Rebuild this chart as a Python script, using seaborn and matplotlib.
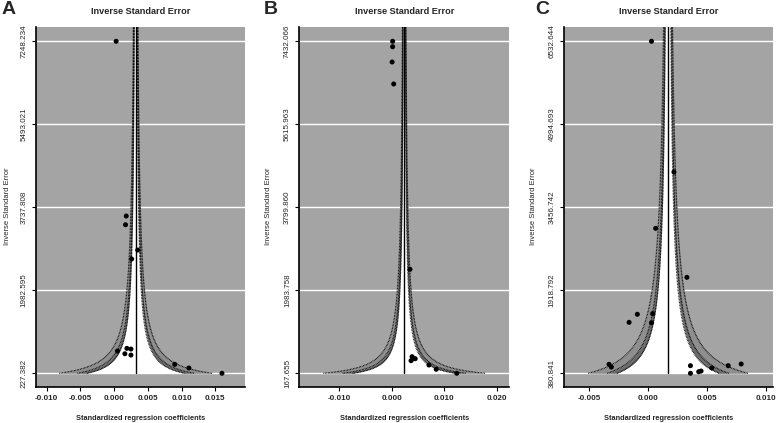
import numpy as np
import pandas as pd
import matplotlib
matplotlib.use("Agg")
import matplotlib.pyplot as plt
import seaborn as sns

sns.set_theme(style="white")
plt.rcParams['font.family'] = ['Liberation Sans', 'DejaVu Sans']

# ---------------- data ----------------
panel_letters = ["A", "B", "C"]
title_text = "Inverse Standard Error"
xlabel_text = "Standardized regression coefficients"

A_x = [0.0003, 0.0018, 0.0017, 0.0035, 0.0026, 0.0005, 0.0016, 0.0019, 0.0025, 0.0025, 0.0090, 0.0111, 0.0160]
A_y = [7248.234, 3553, 3369, 2834, 2644, 698, 641, 755, 740, 613, 417, 339, 227.382]
A_yticks = [227.382, 1982.595, 3737.808, 5493.021, 7248.234]
A_xticks = [-0.010, -0.005, 0.000, 0.005, 0.010, 0.015]
A_center = 0.0032

B_x = [0.0002, 0.0002, 0.0001, 0.0004, 0.0035, 0.0039, 0.0042, 0.0037, 0.0045, 0.0071, 0.0085, 0.0124]
B_y = [7432.066, 7314, 6979, 6498, 2443, 531, 487, 444, 487, 349, 255, 167.655]
B_yticks = [167.655, 1983.758, 3799.860, 5615.963, 7432.066]
B_xticks = [-0.010, 0.000, 0.010, 0.020]
B_center = 0.0024

C_x = [0.0003, 0.0022, 0.00065, 0.0033, -0.0009, -0.0016, 0.0004, 0.0003, -0.0033, -0.0031,
       0.0036, 0.0036, 0.0043, 0.0045, 0.0054, 0.0068, 0.0079]
C_y = [6532.644, 4111, 3067, 2159, 1474, 1325, 1486, 1317, 547, 497,
       522, 380.841, 410, 423, 479, 522, 553]
C_yticks = [380.841, 1918.792, 3456.742, 4994.693, 6532.644]
C_xticks = [-0.005, 0.000, 0.005, 0.010]
C_center = 0.0017

# significance contours (two-sided z at 10%, 5%, 1%)
z_levels = [1.645, 1.96, 2.576]

# ---------------- styling / layout ----------------
BG = "#a4a4a4"
DARK = "#6c6c6c"
MID = "#8e8e8e"

W, H = 778, 423
fig = plt.figure(figsize=(W / 100, H / 100), dpi=100)

axes_px = [(35.7, 245.0), (299.3, 509.3), (563.7, 772.7)]
top_px, bot_px = 26.7, 386.7
xlims = [(-0.01163, 0.01942), (-0.01756, 0.0224), (-0.00714, 0.01057)]
ylabel_x = [-0.12, -0.13, -0.128]
letter_x = [2, 264, 535]

panels = [
    (A_x, A_y, A_yticks, A_xticks, A_center),
    (B_x, B_y, B_yticks, B_xticks, B_center),
    (C_x, C_y, C_yticks, C_xticks, C_center),
]

for i, (xs, ys, yt, xt, c) in enumerate(panels):
    l, r = axes_px[i]
    ax = fig.add_axes([l / W, (H - bot_px) / H, (r - l) / W, (bot_px - top_px) / H])
    ax.set_facecolor(BG)

    ymin, ymax = yt[0], yt[-1]
    rng = ymax - ymin
    ytop = ymax + rng * 14.6 / 332
    ybot = ymin - rng * 13.4 / 332
    ax.set_ylim(ybot, ytop)
    ax.set_xlim(*xlims[i])

    # grid
    for v in yt:
        ax.axhline(v, color="white", lw=1.0, zorder=0.5)

    # contour-enhanced funnel
    yy = np.geomspace(ymin, ytop * 1.02, 600)
    se = 1.0 / yy
    z1, z2, z3 = z_levels
    for s in (-1, 1):
        ax.fill_betweenx(yy, c + s * z2 * se, c + s * z3 * se, color=MID, lw=0, zorder=1)
        ax.fill_betweenx(yy, c + s * z1 * se, c + s * z2 * se, color=DARK, lw=0, zorder=1)
    ax.fill_betweenx(yy, c - z1 * se, c + z1 * se, color="white", lw=0, zorder=1)
    for z in z_levels:
        for s in (-1, 1):
            ax.plot(c + s * z * se, yy, color="black", lw=0.9, ls=(0, (0.6, 0.6)), zorder=2)
    ax.plot([c, c], [ymin, ytop * 1.02], color="black", lw=1.0, zorder=3)

    df = pd.DataFrame({"x": xs, "y": ys})
    sns.scatterplot(data=df, x="x", y="y", ax=ax, color="black", s=13,
                    edgecolor="none", zorder=5, legend=False)

    ax.set_xticks(xt)
    ax.set_xticklabels([f"{v:.3f}" for v in xt], fontsize=5.8, fontweight="bold")
    ax.set_yticks(yt)
    ax.set_yticklabels([f"{v:.3f}" for v in yt], fontsize=5.8, rotation=90, va="center")
    ax.tick_params(axis="both", direction="out", length=3, width=0.8, color="black",
                   left=True, bottom=True, pad=3)

    for sp in ["top", "right"]:
        ax.spines[sp].set_visible(False)
    for sp in ["left", "bottom"]:
        ax.spines[sp].set_color("black")
        ax.spines[sp].set_linewidth(1.2)

    ax.set_title(title_text, fontsize=6.6, fontweight="bold", pad=9)
    ax.set_xlabel(xlabel_text, fontsize=5.3, fontweight="bold", labelpad=9)
    ax.set_ylabel(title_text, fontsize=5.5)
    ax.yaxis.set_label_coords(ylabel_x[i], 0.5)

    fig.text(letter_x[i] / W, 1 - 10 / H, panel_letters[i], fontsize=14,
             fontweight="bold", ha="left", va="center")

fig.savefig("out.png", dpi=100)
